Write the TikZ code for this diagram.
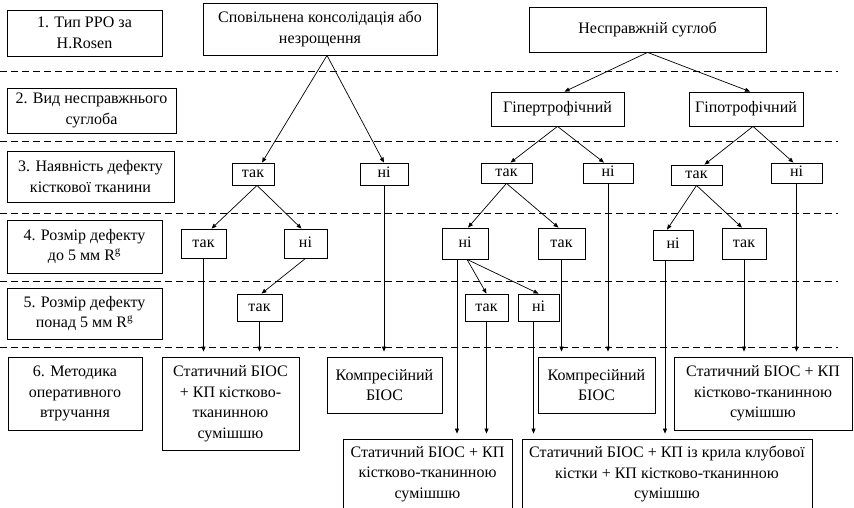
\documentclass[tikz,border=0pt]{standalone}
\usepackage{fontspec}
\setmainfont{Liberation Serif}
\usetikzlibrary{arrows.meta}

\begin{document}
\begin{tikzpicture}[x=1pt, y=-1pt,
    font=\fontsize{16}{20.5}\selectfont,
    box/.style = {draw, line width=0.8pt, align=center, inner sep=0pt},
    one/.style = {draw, line width=0.8pt, inner sep=0pt, text height=10.5pt, text depth=3.5pt},
    wh/.style 2 args = {minimum width=#1pt, minimum height=#2pt},
    >={Triangle[length=5pt, width=4pt]},
    link/.style = {->, line width=0.7pt},
    down/.style = {->, line width=0.7pt, shorten >=5pt}]
  \useasboundingbox (0,0) rectangle (854,507);
  % rows
  \foreach \y in {71,141,213,281,347}
    \draw[dash pattern=on 7pt off 4pt, line width=0.8pt] (0,\y) -- (838,\y);
  % left column
  \node[box, wh={155}{46}] (row1) at (84.5,33) {1. Тип РРО за\\H.Rosen};
  \node[box, wh={169}{45}] (row2) at (91.5,110.5) {2. Вид несправжнього\\суглоба};
  \node[box, wh={167}{51}] (row3) at (90.5,176.5) {3. Наявність дефекту\\кісткової тканини};
  \node[box, wh={155}{53}] (row4) at (84.5,246.5) {4. Розмір дефекту\\до 5 мм R\textsuperscript{g}};
  \node[box, wh={155}{51}] (row5) at (84.5,313.5) {5. Розмір дефекту\\понад 5 мм R\textsuperscript{g}};
  \node[box, wh={134}{73}] (row6) at (75,393.5) {6. Методика\\оперативного\\втручання};
  % top
  \node[box, wh={234}{52}] (slow) at (320,29) {Сповільнена консолідація або\\незрощення};
  \node[one, wh={237}{45}] (nonunion) at (647.5,29.5) {Несправжній суглоб};
  \node[one, wh={133}{34}] (hyper) at (557.5,109) {Гіпертрофічний};
  \node[one, wh={114}{34}] (hypo) at (746,109) {Гіпотрофічний};
  % defect
  \node[one, wh={42}{22}] (yesA3) at (253,174) {так};
  \node[one, wh={48}{22}] (noA3) at (384,174) {ні};
  \node[one, wh={51}{20}] (yesB3) at (506.5,173) {так};
  \node[one, wh={50}{20}] (noB3) at (608,173) {ні};
  \node[one, wh={51}{20}] (yesC3) at (696.5,175) {так};
  \node[one, wh={51}{20}] (noC3) at (796.5,173) {ні};
  % up to 5 mm
  \node[one, wh={45}{29}] (yesA4) at (203.5,243.5) {так};
  \node[one, wh={43}{29}] (noA4) at (305.5,243.5) {ні};
  \node[one, wh={46}{31}] (noB4) at (465,243.5) {ні};
  \node[one, wh={47}{31}] (yesB4) at (561.5,243.5) {так};
  \node[one, wh={40}{30}] (noC4) at (673,245) {ні};
  \node[one, wh={44}{31}] (yesC4) at (744,243.5) {так};
  % over 5 mm
  \node[one, wh={45}{27}] (yesA5) at (259.5,307.5) {так};
  \node[one, wh={43}{27}] (yesB5) at (486.5,307.5) {так};
  \node[one, wh={41}{27}] (noB5) at (538.5,307.5) {ні};
  % methods
  \node[box, wh={137}{93}] (statA) at (230.5,403.5) {Статичний БІОС\\+ КП кістково-\\тканинною\\сумішшю};
  \node[box, wh={115}{56}] (compA) at (384.5,385) {Компресійний\\БІОС};
  \node[box, wh={117}{56}] (compB) at (596.5,385) {Компресійний\\БІОС};
  \node[box, wh={178}{73}] (statC) at (763,393.5) {Статичний БІОС + КП\\кістково-тканинною\\сумішшю};
  \node[box, wh={169}{70}] (statB) at (427.5,474) {Статичний БІОС + КП\\кістково-тканинною\\сумішшю};
  \node[box, wh={290}{70}] (statD) at (667,474) {Статичний БІОС + КП із крила клубової\\кістки + КП кістково-тканинною\\сумішшю};
  %
  \draw[link] ([xshift=7pt]slow.south) -- ([xshift=9pt]yesA3.north);
  \draw[link] ([xshift=7pt]slow.south) -- (noA3.north);
  \draw[link] (nonunion.south) -- ([xshift=7pt]hyper.north);
  \draw[link] (nonunion.south) -- ([xshift=4pt]hypo.north);
  \draw[link] (hyper.south) -- ([xshift=4pt]yesB3.north);
  \draw[link] (hyper.south) -- ([xshift=-4pt]noB3.north);
  \draw[link] ([xshift=7pt]hypo.south) -- ([xshift=8pt]yesC3.north);
  \draw[link] ([xshift=7pt]hypo.south) -- ([xshift=-3pt]noC3.north);
  \draw[link] ([xshift=4pt]yesA3.south) -- ([xshift=8pt]yesA4.north);
  \draw[link] ([xshift=4pt]yesA3.south) -- ([xshift=-4pt]noA4.north);
  \draw[link] (noA4.south) -- ([xshift=2pt]yesA5.north);
  \draw[link] (yesB3.south) -- ([xshift=3pt]noB4.north);
  \draw[link] (yesB3.south) -- ([xshift=-3pt]yesB4.north);
  \draw[link] ([xshift=2pt]noB4.south) -- (yesB5.north);
  \draw[link] ([xshift=2pt]noB4.south) -- (noB5.north);
  \draw[link] (yesC3.south) -- ([xshift=-6pt]noC4.north);
  \draw[link] (yesC3.south) -- ([xshift=-2pt]yesC4.north);
  %
  \coordinate (nB4) at ([xshift=-8pt]noB4.south);
  \coordinate (nB5) at ([xshift=-5pt]noB5.south);
  \coordinate (nC4) at ([xshift=-8pt]noC4.south);
  \draw[down] (yesA4.south) -- (yesA4.south |- statA.north);
  \draw[down] (yesA5.south) -- (yesA5.south |- statA.north);
  \draw[down] (noA3.south) -- (noA3.south |- compA.north);
  \draw[down] (nB4) -- (nB4 |- statB.north);
  \draw[down] (yesB5.south) -- (yesB5.south |- statB.north);
  \draw[down] (nB5) -- (nB5 |- statD.north);
  \draw[down] (yesB4.south) -- (yesB4.south |- compB.north);
  \draw[down] (noB3.south) -- (noB3.south |- compB.north);
  \draw[down] (nC4) -- (nC4 |- statD.north);
  \draw[down] (yesC4.south) -- (yesC4.south |- statC.north);
  \draw[down] (noC3.south) -- (noC3.south |- statC.north);
\end{tikzpicture}
\end{document}
